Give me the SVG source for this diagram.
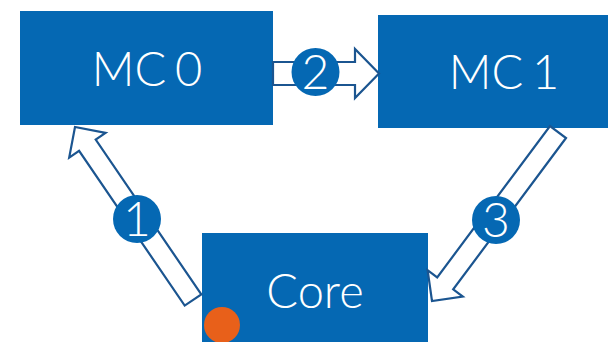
<svg xmlns="http://www.w3.org/2000/svg" width="608" height="342" viewBox="0 0 608 342">
  <style>
    .box { fill: #0568b3; }
    .label { fill: #ffffff; font-family: "Lato", "Open Sans", "Liberation Sans", sans-serif; font-weight: 300; font-size: 47px; text-anchor: middle; word-spacing: -4px; }
    .flow { fill: #ffffff; stroke: #1b5590; stroke-width: 2.2; stroke-linejoin: miter; }
    .step { fill: #0568b3; }
    .num { fill: #ffffff; font-family: "Lato", "Open Sans", "Liberation Sans", sans-serif; font-weight: 300; font-size: 48px; text-anchor: middle; }
  </style>

  <g id="mc0">
    <rect class="box" x="20" y="11" width="253" height="114"/>
    <text class="label" x="147" y="86">MC 0</text>
  </g>

  <g id="mc1">
    <rect class="box" x="378" y="15" width="230" height="113"/>
    <text class="label" x="504" y="89">MC 1</text>
  </g>

  <g id="core">
    <rect class="box" x="202" y="233" width="226" height="109"/>
    <text class="label" x="315" y="308">Core</text>
    <circle cx="222" cy="325" r="18" fill="#e8601a"/>
  </g>

  <g id="connectors">
    <!-- 1: Core to MC 0 -->
    <polygon class="flow" points="201.3,294.4 95.7,139.6 105.6,132.8 75,127 69.2,157.6 79.1,150.8 184.7,305.6"/>
    <!-- 2: MC 0 to MC 1 -->
    <polygon class="flow" points="273,62 355,62 355,49 379,73.5 355,98 355,85 273,85"/>
    <!-- 3: MC 1 to Core -->
    <polygon class="flow" points="566,138 453.2,289.4 462.8,296.6 432,301 427.6,270.2 437.2,277.4 550,126"/>
  </g>

  <g id="step1">
    <circle class="step" cx="137" cy="219" r="24"/>
    <text class="num" x="137" y="236">1</text>
  </g>
  <g id="step2">
    <circle class="step" cx="315.5" cy="72" r="24"/>
    <text class="num" x="315.5" y="89">2</text>
  </g>
  <g id="step3">
    <circle class="step" cx="496" cy="220" r="24"/>
    <text class="num" x="496" y="237">3</text>
  </g>
</svg>
